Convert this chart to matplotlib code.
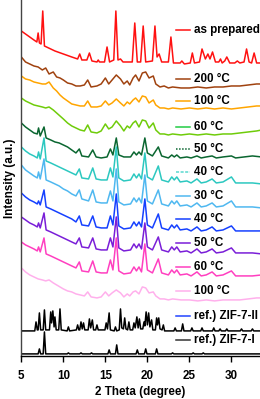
import matplotlib as mpl
mpl.use('Agg')
import matplotlib.pyplot as plt
import numpy as np

plt.rcParams['font.family'] = ['Liberation Sans', 'DejaVu Sans']

# as prepared sample, (2theta, intensity)
prep = [(5.0, 34), (5.5, 31), (6.0, 28), (6.5, 25), (6.85, 23), (7.0, 32), (7.15, 22),
        (7.35, 21), (7.55, 54), (7.75, 19), (8.0, 18), (9.0, 14), (10.0, 11), (11.0, 8),
        (11.7, 6), (11.95, 11), (12.2, 5), (12.8, 5), (13.1, 12), (13.4, 4), (14.0, 3),
        (14.15, 5), (14.3, 3), (14.9, 3), (15.2, 18), (15.5, 3), (16.0, 5), (16.25, 54),
        (16.5, 5), (16.8, 6), (17.1, 3), (18.2, 3), (18.5, 42), (18.8, 3), (19.2, 3),
        (19.5, 39), (19.8, 3), (20.6, 4), (20.9, 39), (21.15, 8), (21.4, 11), (21.7, 3),
        (22.5, 3), (22.8, 28), (23.1, 2), (23.9, 2), (24.1, 4), (24.4, 1), (25.1, 2),
        (25.35, 12), (25.6, 2), (26.2, 3), (26.5, 16), (26.9, 6), (27.2, 11), (27.45, 6),
        (27.75, 13), (28.1, 3), (28.5, 3), (28.7, 6), (28.9, 2), (29.2, 4), (29.45, 8),
        (29.8, 2), (30.4, 2), (30.7, 4), (31.0, 2), (31.5, 3), (31.8, 16), (32.1, 3),
        (32.4, 2), (32.7, 12), (33.0, 2), (33.6, 2)]

# heated samples with broad humps
tt_broad = [5.0, 5.5, 6.0, 6.5, 7.0, 7.5, 7.9, 8.3, 8.8, 9.2, 9.6, 10.0, 10.5, 11.0, 11.5,
            12.0, 12.5, 12.9, 13.3, 14.0, 14.5, 15.0, 15.4, 15.8, 16.3, 16.8, 17.2, 17.6,
            17.9, 18.3, 18.6, 19.0, 19.4, 19.8, 20.2, 20.7, 21.0, 21.5, 22.0, 22.5, 23.0,
            24.0, 25.0, 26.0, 27.0, 28.0, 29.0, 30.0, 31.0, 32.0, 33.0, 33.6]
i_200 = [31, 26, 24, 22, 21, 18, 20, 14, 16, 11, 10, 8, 5, 4, 2, 2, 3, 8, 1, 2, 4, 10, 4, 8,
         13, 9, 4, 7, 3, 10, 13, 7, 15, 16, 10, 12, 4, 1, 2, 0, 1, 0, 0, 1, 0, 1, 1, 2, 2, 3,
         4, 4]
i_100 = [33, 30, 29, 27, 26, 25, 25, 27, 21, 18, 14, 11, 8, 5, 4, 3, 3, 8, 2, 2, 3, 8, 4, 6,
         10, 6, 3, 7, 5, 9, 11, 7, 13, 12, 6, 9, 4, 1, 1, 0, 1, 0, 1, 0, 1, 0, 1, 0, 1, 2,
         3, 3]
i_60 = [37, 34, 32, 30, 29, 28, 27, 28, 25, 22, 19, 16, 12, 9, 7, 5, 4, 10, 3, 2, 4, 11, 6, 8,
        14, 9, 4, 9, 7, 12, 14, 8, 15, 14, 7, 12, 5, 1, 1, 0, 1, 0, 1, 0, 1, 0, 1, 1, 2, 3,
        4, 5]
i_100b = [32, 28, 25, 23, 21, 20, 19, 20, 17, 15, 13, 11, 9, 8, 6, 5, 4, 8, 3, 2, 3, 8, 4, 7,
          10, 7, 3, 6, 4, 8, 9, 6, 13, 12, 7, 8, 4, 1, 1, 0, 1, 0, 0, -1, 0, -1, 0, 0, 0, 1,
          2, 2]

# cooling / heating cycle with sharper peaks
tt_cyc = [5.0, 5.5, 6.0, 6.5, 6.9, 7.05, 7.25, 7.7, 7.95, 8.5, 9.0, 9.5, 10.0, 10.5, 11.0,
          11.5, 11.9, 12.2, 13.0, 13.5, 13.9, 14.5, 15.2, 15.6, 15.9, 16.3, 16.6, 17.2, 18.0,
          18.4, 18.7, 19.0, 19.3, 19.7, 20.0, 20.6, 21.3, 21.7, 22.5, 22.9, 23.2, 23.5, 23.9,
          24.7, 25.2, 25.9, 26.4, 27.0, 27.7, 28.2, 29.0, 30.0, 30.5, 31.5, 32.5, 33.6]
i_50 = [34, 30, 27, 24, 23, 29, 21, 30, 19, 17, 15, 14, 12, 10, 7, 4, 8, 1, 0, 7, 0, -1, 0, 8,
        2, 19, 2, 0, 0, 5, 2, 5, 2, 19, 4, 1, 10, 1, -1, 2, 0, 2, -1, 0, -1, 1, -1, 0, 1, -1,
        0, 1, -1, 0, 1, 0]
i_40 = [36, 32, 29, 27, 25, 31, 24, 45, 22, 20, 18, 16, 14, 12, 10, 8, 14, 5, 4, 15, 4, 3, 3,
        15, 6, 36, 5, 2, 3, 9, 5, 9, 4, 30, 6, 3, 17, 3, 1, 6, 3, 6, 1, 2, 0, 4, 0, 1, 4, 0,
        1, 6, 0, 0, 0, -1]
i_30 = [42, 37, 34, 31, 29, 35, 28, 48, 27, 25, 23, 21, 18, 16, 13, 11, 17, 8, 6, 17, 5, 4, 4,
        16, 6, 38, 5, 2, 3, 9, 5, 9, 4, 32, 6, 3, 17, 3, 1, 6, 3, 6, 1, 2, 0, 4, 0, 1, 4, 0,
        1, 6, 0, 0, 0, -1]
i_40b = [38, 34, 31, 29, 27, 30, 26, 41, 24, 22, 20, 18, 16, 14, 12, 9, 15, 6, 5, 15, 4, 3, 3,
         15, 6, 37, 5, 2, 3, 9, 5, 9, 4, 32, 6, 3, 17, 3, 1, 6, 3, 6, 1, 2, 0, 4, 0, 1, 4, 0,
         1, 5, 0, 0, 0, 0]
i_50b = [36, 33, 30, 28, 26, 30, 25, 40, 23, 21, 19, 17, 15, 13, 11, 9, 15, 6, 5, 15, 4, 3, 3,
         15, 6, 36, 5, 2, 3, 9, 5, 9, 4, 30, 6, 3, 16, 3, 1, 6, 3, 6, 1, 2, 0, 4, 0, 1, 4, 0,
         1, 5, 0, 0, 0, -1]
i_60b = [34, 31, 29, 27, 25, 29, 24, 38, 22, 20, 18, 16, 14, 12, 10, 8, 14, 5, 4, 15, 4, 3, 3,
         16, 6, 38, 5, 2, 3, 9, 5, 9, 4, 32, 6, 3, 17, 3, 1, 6, 3, 6, 1, 2, 0, 4, 0, 1, 4, 0,
         1, 5, 0, 0, 0, 1]

# reference patterns
ref2 = [(5.0, 0), (6.6, 0), (6.75, 9), (6.9, 1), (7.0, 1), (7.15, 18), (7.3, 1), (7.6, 1),
        (7.75, 21), (7.9, 1), (8.35, 1), (8.5, 19), (8.6, 8), (8.75, 20), (8.9, 4), (9.0, 14),
        (9.15, 1), (9.45, 1), (9.6, 22), (9.75, 1), (10.45, 0), (10.6, 4), (10.75, 0),
        (11.55, 1), (11.7, 6), (11.85, 1), (11.95, 1), (12.1, 9), (12.25, 2), (12.4, 8),
        (12.55, 1), (12.95, 1), (13.1, 12), (13.25, 3), (13.45, 11), (13.6, 1), (13.85, 1),
        (14.0, 6), (14.15, 1), (14.95, 1), (15.1, 8), (15.25, 2), (15.45, 18), (15.6, 1),
        (16.05, 0), (16.2, 4), (16.35, 0), (16.65, 1), (16.8, 22), (16.95, 3), (17.15, 2),
        (17.3, 13), (17.45, 2), (17.65, 1), (17.8, 9), (17.95, 1), (18.25, 1), (18.4, 8),
        (18.55, 3), (18.75, 14), (18.9, 3), (19.05, 12), (19.2, 2), (19.45, 2), (19.6, 9),
        (19.7, 5), (19.85, 19), (20.0, 6), (20.15, 18), (20.3, 4), (20.5, 11), (20.65, 1),
        (20.95, 1), (21.1, 13), (21.2, 6), (21.35, 13), (21.5, 2), (21.75, 1), (21.9, 6),
        (22.05, 0), (23.15, 0), (23.3, 3), (23.45, 0), (24.05, 0), (24.2, 7), (24.35, 0),
        (25.15, 0), (25.3, 3), (25.45, 0), (26.35, 0), (26.5, 3), (26.65, 0), (27.75, 0),
        (27.9, 3), (28.05, 0), (28.5, 0), (28.65, 2), (28.8, 0), (29.3, 0), (29.45, 2),
        (29.6, 0), (31.05, 0), (31.2, 2), (31.35, 0), (32.35, 0), (32.5, 2), (32.65, 0),
        (33.6, 0)]
ref1 = [(5.0, 0), (7.0, 0), (7.15, 5), (7.3, 0), (7.6, 0), (7.75, 22), (7.9, 0), (10.45, 0),
        (10.6, 1), (10.75, 0), (11.95, 0), (12.1, 1), (12.25, 0), (13.2, 0), (13.35, 1),
        (13.5, 0), (15.3, 0), (15.45, 4), (15.6, 0), (16.2, 0), (16.35, 9), (16.5, 0),
        (18.65, 0), (18.8, 4), (18.95, 0), (19.65, 0), (19.8, 5), (19.95, 0), (20.95, 0),
        (21.1, 5), (21.25, 0), (22.85, 0), (23.0, 1), (23.15, 0), (25.3, 0), (25.45, 1),
        (25.6, 0), (26.5, 0), (26.65, 1), (26.8, 0), (33.6, 0)]

labels = ['as prepared', '200 °C', '100 °C', '60 °C', '50 °C', '40 °C', '30 °C', '40 °C',
          '50 °C', '60 °C', '100 °C', 'ref.) ZIF-7-II', 'ref.) ZIF-7-I']
colors = ['#ff1111', '#a0420f', '#ffa500', '#6fcc0a', '#0a6630', '#2cc8c0', '#4fb8f0',
          '#1540ff', '#7a1ed8', '#ff3fc0', '#ffb0ec', 'black', 'black']
key_colors = ['#ff1111', '#a0420f', '#ffa500', '#22cc44', '#0a6630', '#5ad8d0', '#4fb8f0',
              '#1540ff', '#7a1ed8', '#ff3fc0', '#ffb0ec', '#2244ff', '#333333']
key_styles = ['-', '-', '-', '-', (0, (1, 1)), (0, (2, 1)), '-', '-', '-', '-', '-', '-', '-']

# vertical shift of every pattern and the height of its label
shift = [291, 268, 247, 221, 199, 173, 149, 125, 103, 80, 56, 25, 2]
label_y = [326, 277, 255, 229, 207, 184, 160, 137, 113, 89, 65, 40, 16]

prep = np.array(prep)
ref2 = np.array(ref2)
ref1 = np.array(ref1)
xs = [prep[:, 0], tt_broad, tt_broad, tt_broad, tt_cyc, tt_cyc, tt_cyc, tt_cyc, tt_cyc,
      tt_cyc, tt_broad, ref2[:, 0], ref1[:, 0]]
ys = [prep[:, 1], i_200, i_100, i_60, i_50, i_40, i_30, i_40b, i_50b, i_60b, i_100b,
      ref2[:, 1], ref1[:, 1]]

fig = plt.figure(figsize=(2.6, 3.99), dpi=100)
ax = fig.add_axes([0.082, 0.108, 0.918, 0.892])

for x, y, s, c in zip(xs, ys, shift, colors):
    ax.plot(x, np.array(y) + s, color=c, lw=1.1)

for ly, lab, kc, ks in zip(label_y, labels, key_colors, key_styles):
    ax.plot([23.4, 25.1], [ly, ly], color=kc, lw=1.1, ls=ks)
    ax.text(25.5, ly, lab, fontsize=8.4, fontweight='bold', va='center', ha='left')

ax.set_xlim(5, 33.4)
ax.set_ylim(0, 356)
ax.set_xticks([5, 10, 15, 20, 25, 30])
ax.set_yticks([])
ax.tick_params(axis='x', length=4.3, width=1, labelsize=8.4, pad=6)
for lab in ax.get_xticklabels():
    lab.set_fontweight('bold')
ax.spines['top'].set_visible(False)
ax.spines['right'].set_visible(False)
ax.spines['left'].set_color('#444444')
ax.spines['left'].set_linewidth(1)
ax.spines['bottom'].set_linewidth(1)
ax.set_xlabel('2 Theta (degree)', fontsize=8.4, fontweight='bold', labelpad=3)
ax.set_ylabel('Intensity (a.u.)', fontsize=8.4, fontweight='bold', labelpad=4)

fig.savefig('out.png', dpi=100)
